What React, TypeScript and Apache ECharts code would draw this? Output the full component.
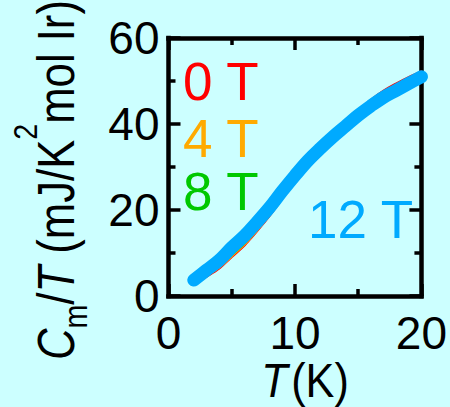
import React, { useEffect, useRef } from "react";
import * as echarts from "echarts";

// Temperature grid (K)
const T_K = [2, 3, 4, 5, 6, 7, 8, 9, 10, 11, 12, 13, 14, 15, 16, 17, 18, 19, 20];

// Cm/T (mJ/K^2 mol Ir) at each field
const C_0T = [2.9, 4.6, 6.5, 9.2, 11.9, 15.2, 18.8, 22.8, 26.9, 30.8, 34.3, 37.5, 40.3, 43.0, 45.5, 47.6, 49.3, 50.8, 52.1];
const C_4T = [3.0, 4.8, 6.7, 9.4, 12.1, 15.4, 19.0, 23.0, 27.1, 30.9, 34.3, 37.4, 40.2, 42.9, 45.3, 47.3, 49.0, 50.5, 51.9];
const C_8T = [3.2, 5.0, 7.0, 9.7, 12.4, 15.7, 19.3, 23.3, 27.3, 31.0, 34.3, 37.3, 40.0, 42.7, 45.0, 47.0, 48.7, 50.2, 51.6];
const C_12T = [3.7, 6.0, 8.3, 11.3, 14.0, 17.2, 20.6, 24.4, 28.0, 31.4, 34.3, 37.0, 39.5, 42.0, 44.2, 46.2, 47.8, 49.4, 51.0];

const FIELD_LABELS = ["0 T", "4 T", "8 T", "12 T"];
const FIELD_COLORS = ["#ff0000", "#ffaa00", "#00c800", "#00aaff"];

const X_TICKS = { min: 0, max: 20, interval: 10 };
const Y_TICKS = { min: 0, max: 60, interval: 20 };

const SANS = '"Liberation Sans", Arial, sans-serif';
const BG = "#ccffff";

function makeAxis(kind: "x" | "y", position: string, showLabel: boolean) {
  const range = kind === "x" ? X_TICKS : Y_TICKS;
  return {
    type: "value",
    position,
    min: range.min,
    max: range.max,
    interval: range.interval,
    axisLine: { show: true, onZero: false, lineStyle: { color: "#000", width: 4.5, cap: "square" } },
    axisTick: { show: true, inside: true, length: 12, lineStyle: { color: "#000", width: 3.5 } },
    minorTick: { show: true, splitNumber: 2, length: 7, lineStyle: { color: "#000", width: 3.5 } },
    splitLine: { show: false },
    minorSplitLine: { show: false },
    axisLabel: {
      show: showLabel,
      showMinLabel: true,
      showMaxLabel: true,
      color: "#000",
      fontFamily: SANS,
      fontSize: 46,
      margin: kind === "x" ? 14 : 9,
    },
  };
}

export default function App() {
  const ref = useRef<HTMLDivElement>(null);

  useEffect(() => {
    if (!ref.current) return;
    const chart = echarts.init(ref.current, null, { renderer: "svg" });

    const fields = [C_0T, C_4T, C_8T, C_12T];
    const series = fields.map((vals, i) => ({
      name: FIELD_LABELS[i],
      type: "line",
      data: T_K.map((t, j) => [t, vals[j]]),
      showSymbol: false,
      smooth: 0.35,
      z: 2 + i,
      lineStyle: {
        color: FIELD_COLORS[i],
        width: i === 3 ? 13 : 3,
        cap: "round",
        join: "round",
      },
    }));

    const labelPos = [
      { x: 183, y: 81 },
      { x: 183, y: 138 },
      { x: 183, y: 191 },
      { x: 308, y: 219 },
    ];

    const fieldTexts = FIELD_LABELS.map((txt, i) => ({
      type: "text",
      x: labelPos[i].x,
      y: labelPos[i].y,
      z: 10,
      style: {
        text: txt,
        fill: FIELD_COLORS[i],
        fontFamily: SANS,
        fontSize: 53,
        lineHeight: 46,
        align: "left",
        verticalAlign: "middle",
      },
    }));

    chart.setOption({
      animation: false,
      backgroundColor: BG,
      grid: { left: 168.5, right: 22.5, top: 38, bottom: 111, containLabel: false },
      xAxis: [makeAxis("x", "bottom", true), makeAxis("x", "top", false)],
      yAxis: [makeAxis("y", "left", true), makeAxis("y", "right", false)],
      series,
      graphic: [
        ...fieldTexts,
        {
          type: "text",
          x: 56,
          y: 180,
          rotation: Math.PI / 2,
          scaleX: 0.84,
          style: {
            text: "{i|C}{sub|m}{n|/}{i|T}{n| (mJ/K}{sup|2}{n|mol Ir)}",
            align: "center",
            verticalAlign: "middle",
            fill: "#000",
            rich: {
              i: { fontFamily: SANS, fontSize: 52, fontStyle: "italic", fill: "#000" },
              n: { fontFamily: SANS, fontSize: 52, fill: "#000" },
              sub: { fontFamily: SANS, fontSize: 34, fill: "#000", padding: [40, 0, 0, 0] },
              sup: { fontFamily: SANS, fontSize: 34, fill: "#000", padding: [0, 0, 60, 0] },
            },
          },
        },
        {
          type: "text",
          x: 305,
          y: 381,
          scaleX: 0.9,
          style: {
            text: "{i|T}{n|(K)}",
            align: "center",
            verticalAlign: "middle",
            fill: "#000",
            rich: {
              i: { fontFamily: SANS, fontSize: 48, fontStyle: "italic", fill: "#000", lineHeight: 40 },
              n: { fontFamily: SANS, fontSize: 48, fill: "#000", padding: [0, 0, 0, 4], lineHeight: 40 },
            },
          },
        },
      ],
    });

    return () => chart.dispose();
  }, []);

  return (
    <div
      ref={ref}
      style={{ position: "fixed", left: 0, top: 0, width: 450, height: 407, background: BG }}
    />
  );
}
